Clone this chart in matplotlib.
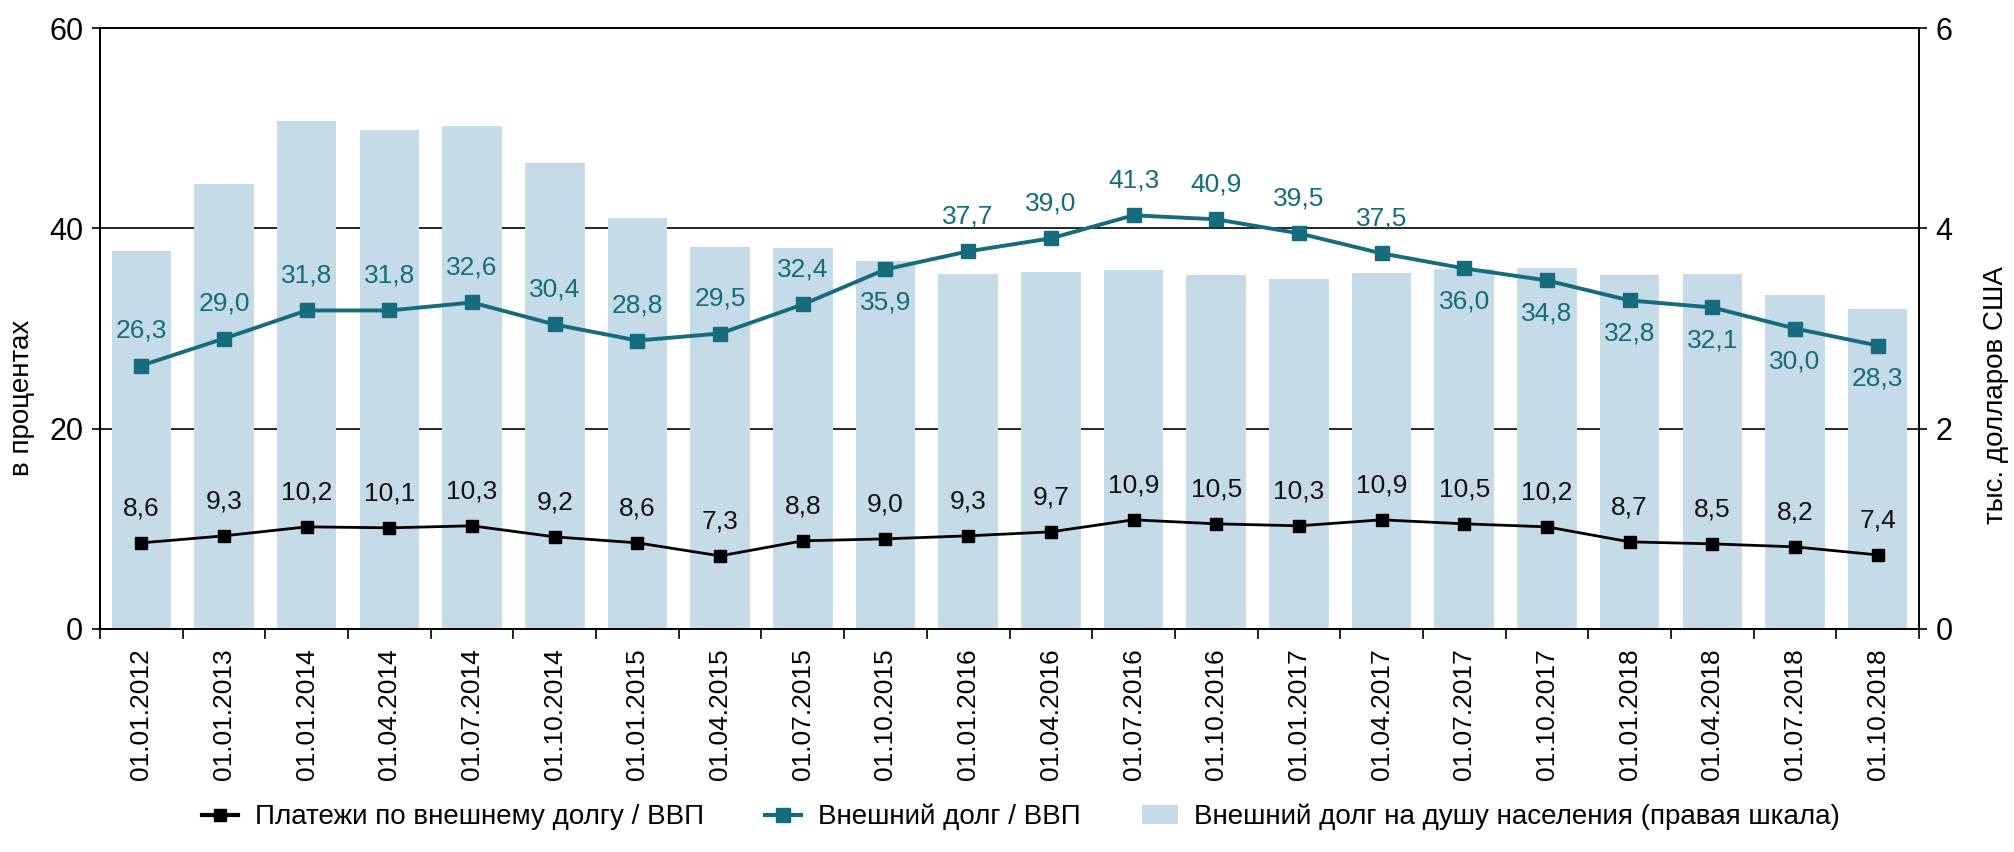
import matplotlib
matplotlib.use("Agg")
import matplotlib.pyplot as plt
from matplotlib.lines import Line2D
from matplotlib.patches import Patch
import numpy as np

plt.rcParams['font.family'] = ['Liberation Sans', 'DejaVu Sans']

dates = ["01.01.2012", "01.01.2013", "01.01.2014", "01.04.2014", "01.07.2014",
         "01.10.2014", "01.01.2015", "01.04.2015", "01.07.2015", "01.10.2015",
         "01.01.2016", "01.04.2016", "01.07.2016", "01.10.2016", "01.01.2017",
         "01.04.2017", "01.07.2017", "01.10.2017", "01.01.2018", "01.04.2018",
         "01.07.2018", "01.10.2018"]
debt_per_capita = [3.77, 4.44, 5.07, 4.98, 5.02, 4.65, 4.10, 3.81, 3.80, 3.67,
                   3.54, 3.56, 3.58, 3.53, 3.49, 3.55, 3.59, 3.60, 3.53, 3.54,
                   3.33, 3.19]
debt_gdp = [26.3, 29.0, 31.8, 31.8, 32.6, 30.4, 28.8, 29.5, 32.4, 35.9, 37.7,
            39.0, 41.3, 40.9, 39.5, 37.5, 36.0, 34.8, 32.8, 32.1, 30.0, 28.3]
payments_gdp = [8.6, 9.3, 10.2, 10.1, 10.3, 9.2, 8.6, 7.3, 8.8, 9.0, 9.3, 9.7,
                10.9, 10.5, 10.3, 10.9, 10.5, 10.2, 8.7, 8.5, 8.2, 7.4]
# label placement for the teal series: True = below the point
teal_below = [False]*9 + [True] + [False]*6 + [True]*6

label_pay = "Платежи по внешнему долгу / ВВП"
label_debt = "Внешний долг / ВВП"
label_pc = "Внешний долг на душу населения (правая шкала)"
ylabel_left = "в процентах"
ylabel_right = "тыс. долларов США"

TEAL = "#146c7c"
BAR = "#c5dbe7"

fig = plt.figure(figsize=(20.14, 8.52), dpi=100)
ax = fig.add_axes([100/2014, 1-629/852, (1919-100)/2014, (629-28)/852])
ax2 = ax.twinx()

x = np.arange(len(dates))

ax2.set_zorder(1)
ax.set_zorder(2)
ax.patch.set_visible(False)
ax2.bar(x, debt_per_capita, width=0.72, color=BAR, zorder=2)
ax2.set_ylim(0, 6)
ax2.set_yticks([0, 2, 4, 6])
ax2.yaxis.grid(True, color="black", linewidth=1.2, zorder=1)
ax2.set_axisbelow(True)

ax.plot(x, payments_gdp, color="black", linewidth=2.0, marker="s", markersize=9, zorder=3)
ax.plot(x, debt_gdp, color=TEAL, linewidth=2.8, marker="s", markersize=10, zorder=3)

for xi, v in zip(x, payments_gdp):
    ax.annotate(f"{v:.1f}".replace(".", ","), (xi, v), xytext=(0, 25), textcoords="offset points",
                ha="center", va="center", fontsize=19, color="#111111")
for xi, v, b in zip(x, debt_gdp, teal_below):
    ax.annotate(f"{v:.1f}".replace(".", ","), (xi, v), xytext=(0, -24 if b else 25),
                textcoords="offset points", ha="center", va="center", fontsize=19, color=TEAL)

ax.set_xlim(-0.5, len(dates) - 0.5)
ax.set_ylim(0, 60)
ax.set_yticks([0, 20, 40, 60])
ax.set_xticks(x)
ax.set_xticklabels(dates, rotation=90, fontsize=19)
ax.tick_params(axis="x", which="major", length=0, pad=14)
ax.set_xticks(np.arange(-0.5, len(dates), 1.0), minor=True)
ax.tick_params(axis="x", which="minor", length=7, width=1.2, direction="out")
ax.tick_params(axis="y", labelsize=22, length=6, width=1.2, pad=6)
ax2.tick_params(axis="y", labelsize=22, length=6, width=1.2, pad=6)

for a in (ax, ax2):
    for s in a.spines.values():
        s.set_linewidth(1.2)
        s.set_color("black")

ax.set_ylabel(ylabel_left, fontsize=20)
ax.yaxis.set_label_coords(-0.036, 0.385)
ax2.set_ylabel(ylabel_right, fontsize=20)
ax2.yaxis.set_label_coords(1.035, 0.39)

handles = [
    Line2D([], [], color="black", linewidth=3, marker="s", markersize=9),
    Line2D([], [], color=TEAL, linewidth=3, marker="s", markersize=10),
    Patch(facecolor=BAR, edgecolor="none"),
]
fig.legend(handles, [label_pay, label_debt, label_pc], loc="center",
           bbox_to_anchor=(0.507, 1-817/852), ncol=3, frameon=False, fontsize=20,
           handlelength=1.3, columnspacing=2.2, handletextpad=0.6)

fig.savefig("out.png", dpi=100)
